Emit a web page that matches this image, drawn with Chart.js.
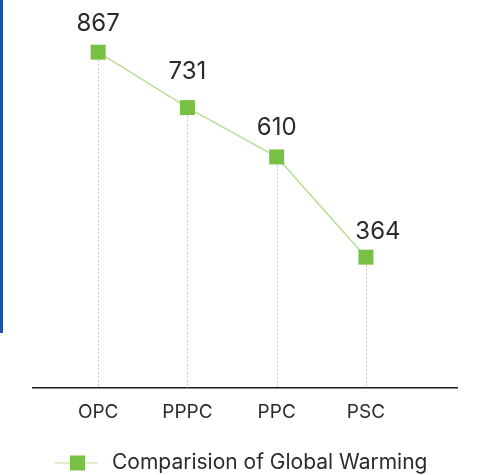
<!DOCTYPE html>
<html>
<head>
<meta charset="utf-8">
<script src="https://cdn.jsdelivr.net/npm/chart.js@4/dist/chart.umd.min.js"></script>
<style>
  html, body { margin: 0; padding: 0; background: #fff; }
  #wrap { position: relative; width: 480px; height: 475px; }
  #bar { position: absolute; left: 0; top: 0; width: 3px; height: 333px; background: #1b55b2; }
</style>
</head>
<body>
<div id="wrap">
  <div id="bar"></div>
  <canvas id="c" width="480" height="475"></canvas>
</div>
<script>
"use strict";
var categories = ["OPC", "PPPC", "PPC", "PSC"];
var values = [867, 731, 610, 364];
var seriesName = "Comparision of Global Warming";

var LINE_COLOR = "#b8df9a";
var MARK_COLOR = "#78c043";
var FONT = "Inter, 'Noto Sans', sans-serif";
// label nudges (dx, dy) from each point, as placed in the original
var LABEL_SHIFT = [[0, -28], [0, -36], [0, -29], [12, -25]];

// drop lines, value labels and a legend drawn like the original
var extras = {
  id: "extras",
  beforeDatasetsDraw: function(chart) {
    var ctx = chart.ctx;
    var meta = chart.getDatasetMeta(0);
    var bottom = chart.chartArea.bottom;
    ctx.save();
    ctx.strokeStyle = "#c9c9c9";
    ctx.lineWidth = 1;
    ctx.setLineDash([2, 2]);
    meta.data.forEach(function(pt) {
      var x = Math.round(pt.x) + 0.5;
      ctx.beginPath();
      ctx.moveTo(x, pt.y);
      ctx.lineTo(x, bottom);
      ctx.stroke();
    });
    ctx.restore();
  },
  afterDraw: function(chart) {
    var ctx = chart.ctx;
    var meta = chart.getDatasetMeta(0);
    ctx.save();
    ctx.fillStyle = "#2b2b2b";
    ctx.font = "24px " + FONT;
    ctx.textAlign = "center";
    ctx.textBaseline = "middle";
    meta.data.forEach(function(pt, i) {
      var sh = LABEL_SHIFT[i] || [0, -28];
      ctx.fillText(String(values[i]), pt.x + sh[0], pt.y + sh[1]);
    });

    // legend
    var ly = 463;
    ctx.strokeStyle = "#dcefcf";
    ctx.lineWidth = 2;
    ctx.beginPath();
    ctx.moveTo(55, ly);
    ctx.lineTo(98, ly);
    ctx.stroke();
    ctx.fillStyle = MARK_COLOR;
    ctx.fillRect(70, ly - 7.5, 15, 15);
    ctx.fillStyle = "#2b2b2b";
    ctx.font = "21px " + FONT;
    ctx.textAlign = "left";
    ctx.fillText(seriesName, 112, ly);
    ctx.restore();
  }
};

new Chart(document.getElementById("c").getContext("2d"), {
  type: "line",
  data: {
    datasets: [{
      label: seriesName,
      data: values.map(function(v, i) { return { x: i, y: v }; }),
      borderColor: LINE_COLOR,
      borderWidth: 1.5,
      pointStyle: "rect",
      pointRadius: 10.6,
      pointBackgroundColor: MARK_COLOR,
      pointBorderColor: MARK_COLOR,
      pointBorderWidth: 0,
      tension: 0,
      fill: false
    }]
  },
  plugins: [extras],
  options: {
    responsive: false,
    animation: false,
    layout: { autoPadding: false, padding: { left: 33, right: 23, top: 0, bottom: 0 } },
    plugins: { legend: { display: false }, tooltip: { enabled: false } },
    scales: {
      x: {
        type: "linear",
        min: -0.73,
        max: 4.02,
        afterBuildTicks: function(s) {
          s.ticks = categories.map(function(c, i) { return { value: i }; });
        },
        afterFit: function(s) { s.height = 87; },
        ticks: {
          padding: 5,
          color: "#2b2b2b",
          font: { family: FONT, size: 19 },
          callback: function(v) { return categories[v]; }
        },
        grid: { display: false },
        border: { display: true, color: "#1a1a1a", width: 1.5 }
      },
      y: {
        display: false,
        min: 43,
        max: 995
      }
    }
  }
});
</script>
</body>
</html>
